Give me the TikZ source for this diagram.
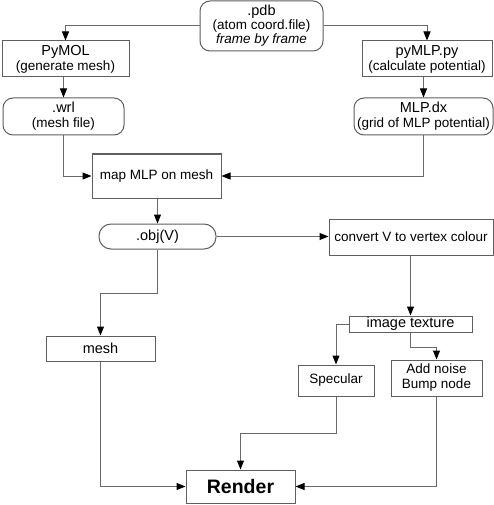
\documentclass[tikz,border=0pt]{standalone}
\usepackage{fontspec}
\setmainfont{Liberation Sans}
\usetikzlibrary{arrows.meta}
\definecolor{boxgray}{RGB}{95,95,95}
\definecolor{linegray}{RGB}{105,105,105}
\tikzset{
  base/.style={draw=boxgray, line width=1pt, fill=white, inner sep=1pt, align=center, text=black,
    font=\fontsize{13.5}{15}\selectfont},
  sqbox/.style={base},
  rbox/.style={base, rounded corners=10pt},
  conn/.style={draw=linegray, line width=1pt, -{Triangle[length=9pt,width=7pt,color=black,fill=black]}},
}
\newcommand{\tsize}{\fontsize{14.5}{15}\selectfont}
\begin{document}
\begin{tikzpicture}[x=1pt,y=-1pt]
\useasboundingbox (0,0) rectangle (494,505);
\fill[white] (0,0) rectangle (494,505);
% nodes
\node[rbox, minimum width=123pt, minimum height=50pt, font=\fontsize{13.5}{14}\selectfont] (pdb) at (261.5,26) {{\tsize .pdb}\\(atom coord.file)\\\textit{frame by frame}};
\node[sqbox, minimum width=127pt, minimum height=36pt] (pymol) at (65.5,59) {{\tsize PyMOL}\\(generate mesh)};
\node[sqbox, minimum width=130pt, minimum height=36pt] (pymlp) at (427,59) {{\tsize pyMLP.py}\\(calculate potential)};
\node[rbox, minimum width=121pt, minimum height=37pt] (wrl) at (63.5,116.5) {{\tsize .wrl}\\(mesh file)};
\node[rbox, minimum width=139pt, minimum height=37pt] (mlpdx) at (423.5,116.5) {{\tsize MLP.dx}\\(grid of MLP potential)};
\node[sqbox, minimum width=129pt, minimum height=44pt] (map) at (156.5,176) {map MLP on mesh};
\node[base, rounded corners=12pt, minimum width=117pt, minimum height=25pt, font=\tsize] (obj) at (157.5,236.5) {.obj(V)};
\node[sqbox, minimum width=164pt, minimum height=36pt] (conv) at (411,237) {convert V to vertex colour};
\node[sqbox, minimum width=109pt, minimum height=25pt, font=\tsize] (mesh) at (100.5,348.5) {mesh};
\node[sqbox, minimum width=123pt, minimum height=16pt, font=\tsize] (tex) at (410.5,324) {image texture};
\node[sqbox, minimum width=76pt, minimum height=31pt] (spec) at (336,380.5) {Specular};
\node[sqbox, minimum width=91pt, minimum height=36pt] (noise) at (436.5,378) {Add noise\\Bump node};
\node[sqbox, minimum width=109pt, minimum height=33pt, font=\fontsize{19.5}{20}\selectfont\bfseries] (render) at (240.5,486.5) {Render};
% connectors
\draw[conn] (pdb.west) -| (pymol.north);
\draw[conn] (pdb.east) -| (pymlp.north);
\draw[conn] (pymol.south -| wrl.north) -- (wrl.north);
\draw[conn] (pymlp.south -| mlpdx.north) -- (mlpdx.north);
\draw[conn] (wrl.south) |- (map.west);
\draw[conn] (mlpdx.south) |- (map.east);
\draw[conn] (map.south -| obj.north) -- (obj.north);
\draw[conn] (obj.east) -- (conv.west |- obj.east);
\coordinate (objbend) at (obj.south |- 0,293);
\draw[conn] (obj.south) -- (objbend) -| (mesh.north);
\draw[conn] (conv.south -| tex.north) -- (tex.north);
\draw[conn] (tex.west) -| (spec.north);
\coordinate (texbend) at (tex.south |- 0,347);
\draw[conn] (tex.south) -- (texbend) -| (noise.north);
\draw[conn] (mesh.south) |- (render.west);
\coordinate (specbend) at (spec.south |- 0,433);
\draw[conn] (spec.south) -- (specbend) -| (render.north);
\draw[conn] (noise.south) |- (render.east);
\end{tikzpicture}
\end{document}
